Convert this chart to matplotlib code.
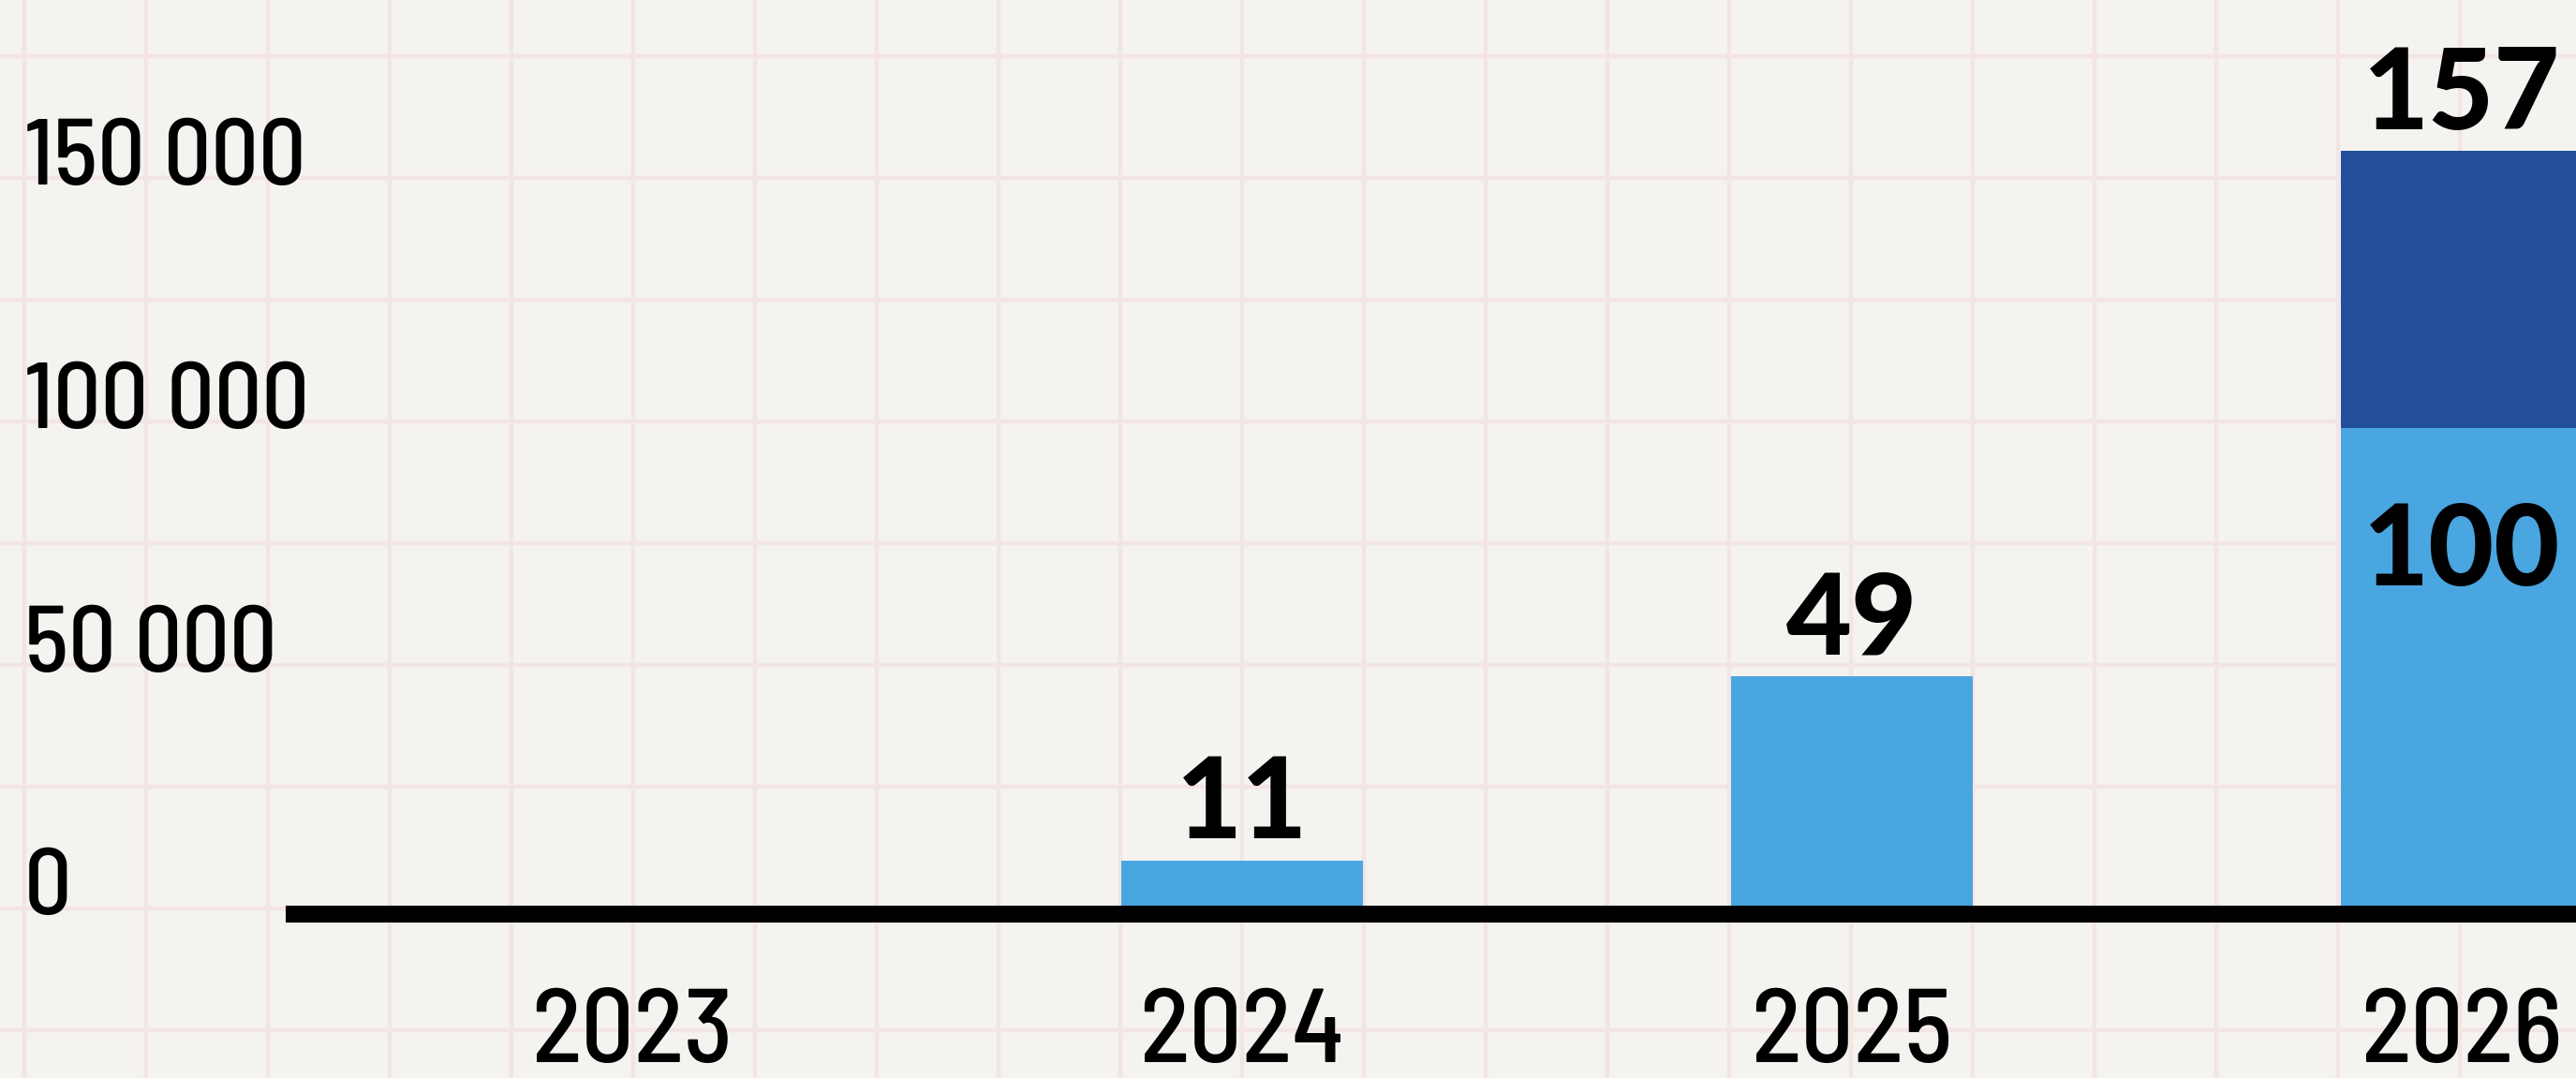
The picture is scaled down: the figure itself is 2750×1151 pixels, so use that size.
import matplotlib
matplotlib.use("Agg")
import matplotlib.pyplot as plt
import matplotlib.transforms as mtransforms

# data (bar values, thousands shown in labels)
years = ["2023", "2024", "2025", "2026"]
base = [0, 11000, 49000, 100000]
extra = [0, 0, 0, 57000]
top_labels = ["", "11", "49", "157"]
inner_labels = ["", "", "", "100"]
yticks = [0, 50000, 100000, 150000]
ytick_labels = ["0", "50 000", "100 000", "150 000"]

BG = "#f5f3ef"
GRID = "#f2e5e3"
LIGHT = "#4aa6e0"
DARK = "#234f9b"
NARROW = ["Barlow Semi Condensed", "DejaVu Sans"]
HEAVY = ["Lato", "DejaVu Sans"]

W, H = 2750, 1151
fig = plt.figure(figsize=(W / 100, H / 100), dpi=100)
fig.patch.set_facecolor(BG)

# squared paper behind the chart
bg = fig.add_axes([0, 0, 1, 1])
bg.set_xlim(0, W)
bg.set_ylim(H, 0)
bg.axis("off")
for gx in range(26, W, 130):
    bg.axvline(gx, color=GRID, lw=3.2)
for gy in range(60, H, 130):
    bg.axhline(gy, color=GRID, lw=3.2)

ax = fig.add_axes([0, 0, 1, 1])
ax.patch.set_alpha(0)
ax.axis("off")
ax.set_xlim(-1.037, 3.188)
ax.set_ylim(-33700, 188050)

x = list(range(len(years)))
ax.bar(x, base, width=0.396, color=LIGHT, zorder=2)
ax.bar(x, extra, bottom=base, width=0.396, color=DARK, zorder=2)
ax.plot([-0.568, 3.4], [0, 0], color="black", lw=13, solid_capstyle="butt", zorder=3)

# y labels on the left, sitting on their values
trans = mtransforms.blended_transform_factory(ax.transAxes, ax.transData)
for v, lbl in zip(yticks, ytick_labels):
    ax.text(0.0095, v, lbl, transform=trans, ha="left", va="baseline",
            fontsize=72, family=NARROW, fontweight=500, color="black")

for i, yr in enumerate(years):
    ax.annotate(yr, (i, 0), xytext=(0, -114), textcoords="offset points",
                ha="center", va="baseline", fontsize=80, family=NARROW, fontweight=500)

for i in x:
    total = base[i] + extra[i]
    if top_labels[i]:
        ax.annotate(top_labels[i], (i, total), xytext=(0, 17), textcoords="offset points",
                    ha="center", va="baseline", fontsize=87, family=HEAVY,
                    fontweight="black", zorder=4)
    if inner_labels[i]:
        ax.annotate(inner_labels[i], (i, base[i]), xytext=(0, -121), textcoords="offset points",
                    ha="center", va="baseline", fontsize=87, family=HEAVY,
                    fontweight="black", zorder=4)

fig.savefig("out.png", dpi=100, facecolor=BG)
